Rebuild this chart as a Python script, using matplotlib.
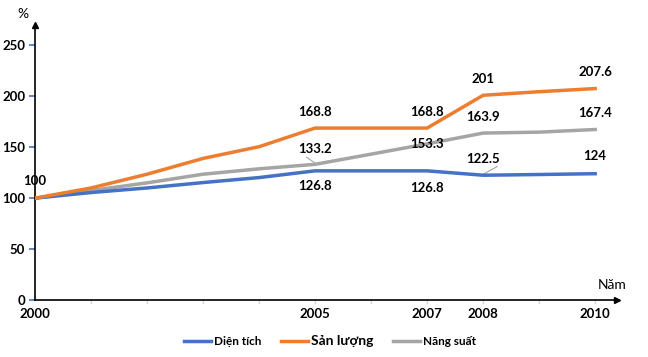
import matplotlib.pyplot as plt
import numpy as np

# data
years = [2000, 2001, 2002, 2003, 2004, 2005, 2006, 2007, 2008, 2009, 2010]
dien_tich = [100, 105.5, 110, 115.3, 120.2, 126.8, 126.8, 126.8, 122.5, 123.2, 124]
san_luong = [100, 110, 123.5, 139, 150.5, 168.8, 168.8, 168.8, 201, 204.5, 207.6]
nang_suat = [100, 107.5, 115, 123.5, 128.8, 133.2, 143.2, 153.3, 163.9, 164.8, 167.4]
label_years = [2000, 2005, 2007, 2008, 2010]

c_blue = '#4472C4'
c_orange = '#ED7D31'
c_gray = '#A5A5A5'

plt.rcParams['font.family'] = ['Lato', 'DejaVu Sans']

fig = plt.figure(figsize=(6.48, 3.57), dpi=100)
ax = fig.add_axes([35/648, 1-300/357, (617-35)/648, 275/357])

ax.plot(years, dien_tich, color=c_blue, lw=2.5, label='Diện tích', zorder=3)
ax.plot(years, san_luong, color=c_orange, lw=2.5, label='Sản lượng', zorder=3)
ax.plot(years, nang_suat, color=c_gray, lw=2.5, label='Năng suất', zorder=2)

ax.set_xlim(2000, 2010.39)
ax.set_ylim(0, 270)

for s in ['top', 'right']:
    ax.spines[s].set_visible(False)
ax.spines['left'].set_linewidth(1.2)
ax.spines['bottom'].set_linewidth(1.2)

# mui ten
ax.plot(1, 0, '>k', ms=5, transform=ax.transAxes, clip_on=False)
ax.plot(0, 1, '^k', ms=5, transform=ax.transAxes, clip_on=False)

ax.set_yticks([0, 50, 100, 150, 200, 250])
ax.tick_params(axis='y', length=4, color=c_blue, width=1.2, pad=3)
ax.set_xticks(label_years)
ax.set_xticks(years, minor=True)
ax.tick_params(axis='x', which='minor', length=0)
ax.tick_params(axis='x', which='major', length=0, pad=6)
for x in years[1:]:
    ax.plot([x, x], [0, -3], color='#D9D9D9', lw=1, clip_on=False)
for lab in ax.get_xticklabels() + ax.get_yticklabels():
    lab.set_fontweight('bold')
    lab.set_fontsize(9.5)

fig.text(23/648, 1-14/357, '%', fontsize=10, ha='center', va='center')
fig.text(612/648, 1-285/357, 'Năm', fontsize=10, ha='center', va='center')

kw = dict(fontsize=9.5, fontweight='bold', ha='center', va='center', zorder=5)
ax.text(2000, 117, '100', **kw)
# san luong
for yr, v in [(2005, 168.8), (2007, 168.8), (2008, 201), (2010, 207.6)]:
    ax.text(yr, v + 16, f'{v:g}', **kw)
# nang suat
ax.text(2005, 148.5, '133.2', **kw)
ax.plot([2004.85, 2005], [140, 134.5], color=c_gray, lw=0.8)
ax.text(2007, 153.3, '153.3', **kw)
ax.text(2008, 180, '163.9', **kw)
ax.text(2010, 183.5, '167.4', **kw)
# dien tich
ax.text(2005, 112, '126.8', **kw)
ax.text(2007, 110, '126.8', **kw)
ax.text(2008, 138.5, '122.5', **kw)
ax.plot([2008.25, 2008], [131, 123.5], color=c_gray, lw=0.8)
ax.text(2010, 141, '124', **kw)

leg = fig.legend(loc='center', bbox_to_anchor=(330/648, 1-341/357), ncol=3,
                 frameon=False, handlelength=2.3, handletextpad=0.3,
                 columnspacing=1.6, prop={'weight': 'bold', 'size': 8.5})
leg.get_texts()[1].set_fontsize(10)

fig.savefig('out.png', dpi=100)
